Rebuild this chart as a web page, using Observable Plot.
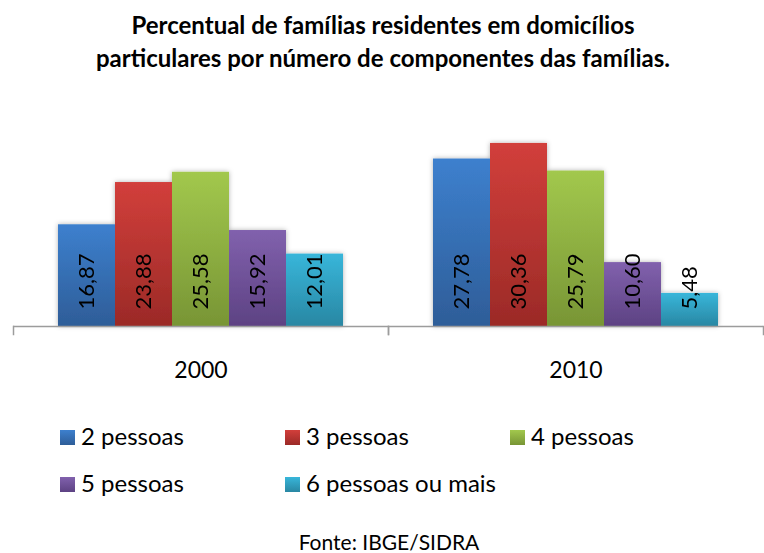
<!DOCTYPE html>
<html lang="pt-BR">
<head>
<meta charset="utf-8">
<title>Famílias por número de componentes</title>
<script src="https://cdn.jsdelivr.net/npm/d3@7"></script>
<script src="https://cdn.jsdelivr.net/npm/@observablehq/plot@0.6"></script>
<style>
  html, body { margin: 0; padding: 0; background: #fff; }
  #chart {
    position: relative; width: 764px; height: 553px; overflow: hidden;
    font-family: Lato, "Open Sans", sans-serif; color: #000;
  }
  #title {
    position: absolute; left: 1px; top: 8px; width: 764px;
    text-align: center; font-weight: 700; font-size: 24px; line-height: 33px;
  }
  #plot { position: absolute; left: 0; top: 90px; }
  .legend-item {
    position: absolute; font-size: 24px; line-height: 23px; white-space: nowrap;
  }
  .legend-item .swatch {
    display: inline-block; width: 15px; height: 15px; margin-right: 6px;
  }
  #caption {
    position: absolute; left: 0; width: 778px; top: 531px;
    text-align: center; font-size: 21px; line-height: 22px;
  }
</style>
</head>
<body>
<div id="chart">
  <div id="title">Percentual de famílias residentes em domicílios<br>particulares por número de componentes das famílias.</div>
  <div id="plot"></div>
  <div id="legend"></div>
  <div id="caption">Fonte: IBGE/SIDRA</div>
</div>
<script>
// Census years and household-size groups
const years = ["2000", "2010"];
const groups = ["2 pessoas", "3 pessoas", "4 pessoas", "5 pessoas", "6 pessoas ou mais"];

// Share of families (%) by number of members
const values2000 = [16.87, 23.88, 25.58, 15.92, 12.01];
const values2010 = [27.78, 30.36, 25.79, 10.60, 5.48];

// Bar gradient stops (top, bottom) for each group
const gradientTop = ["#3d80ce", "#d23f3b", "#a2c84d", "#8161ad", "#38b6da"];
const gradientBottom = ["#2e5d98", "#9b2a27", "#789535", "#5d4283", "#2987a3"];

const rows = years.flatMap((year, j) =>
  groups.map((group, i) => ({year, group, value: [values2000, values2010][j][i]}))
);

const fmt = v => v.toFixed(2).replace(".", ",");
const axisGray = "#9c9c9c";

const plot = Plot.plot({
  width: 764,
  height: 300,
  marginTop: 25,
  marginBottom: 64,
  marginLeft: 13,
  marginRight: 1,
  style: {fontFamily: "Lato, 'Open Sans', sans-serif", fontSize: "23px", color: "#000", background: "transparent", overflow: "visible"},
  facet: {data: rows, x: "year"},
  fx: {domain: years, padding: 0, axis: "bottom", tickSize: 0, tickPadding: 35, label: null},
  x: {domain: groups, paddingInner: 0, paddingOuter: 0.733, axis: null},
  y: {domain: [0, 35], axis: null},
  color: {domain: groups, range: groups.map((_, i) => `url(#bar-grad-${i})`)},
  marks: [
    Plot.barY(rows, {x: "group", y: "value", fill: "group"}),
    Plot.ruleY([0], {stroke: axisGray, strokeWidth: 1.5}),
    Plot.frame({anchor: "left", stroke: axisGray, strokeWidth: 1.5, insetTop: 211, insetBottom: -8}),
    Plot.frame({anchor: "right", stroke: axisGray, strokeWidth: 1.5, insetTop: 211, insetBottom: -8}),
    Plot.text(rows, {
      x: "group", y: 0, text: d => fmt(d.value),
      rotate: -90, textAnchor: "start", lineAnchor: "middle",
      dy: -17, fontSize: 22, fill: "#000"
    })
  ]
});

// Gradients and a soft shadow for the bars
const svg = d3.select(plot.tagName.toLowerCase() === "svg" ? plot : plot.querySelector("svg"));
const defs = svg.insert("defs", ":first-child");
groups.forEach((_, i) => {
  const g = defs.append("linearGradient")
    .attr("id", `bar-grad-${i}`).attr("x1", 0).attr("y1", 0).attr("x2", 0).attr("y2", 1);
  g.append("stop").attr("offset", "0%").attr("stop-color", gradientTop[i]);
  g.append("stop").attr("offset", "100%").attr("stop-color", gradientBottom[i]);
});
const shadow = defs.append("filter").attr("id", "bar-shadow")
  .attr("x", "-10%").attr("y", "-10%").attr("width", "120%").attr("height", "120%");
shadow.append("feDropShadow").attr("dx", 0).attr("dy", 0).attr("stdDeviation", 2.5)
  .attr("flood-color", "#000").attr("flood-opacity", 0.3);
svg.selectAll("g[aria-label='bar']").attr("filter", "url(#bar-shadow)");

document.getElementById("plot").appendChild(plot);

// Legend: three columns, two rows
const legend = d3.select("#legend");
groups.forEach((group, i) => {
  const col = i % 3, row = Math.floor(i / 3);
  const item = legend.append("div").attr("class", "legend-item")
    .style("left", `${60 + col * 225}px`)
    .style("top", `${424 + row * 47}px`);
  item.append("span").attr("class", "swatch")
    .style("background", `linear-gradient(${gradientTop[i]}, ${gradientBottom[i]})`);
  item.append("span").text(group);
});
</script>
</body>
</html>
